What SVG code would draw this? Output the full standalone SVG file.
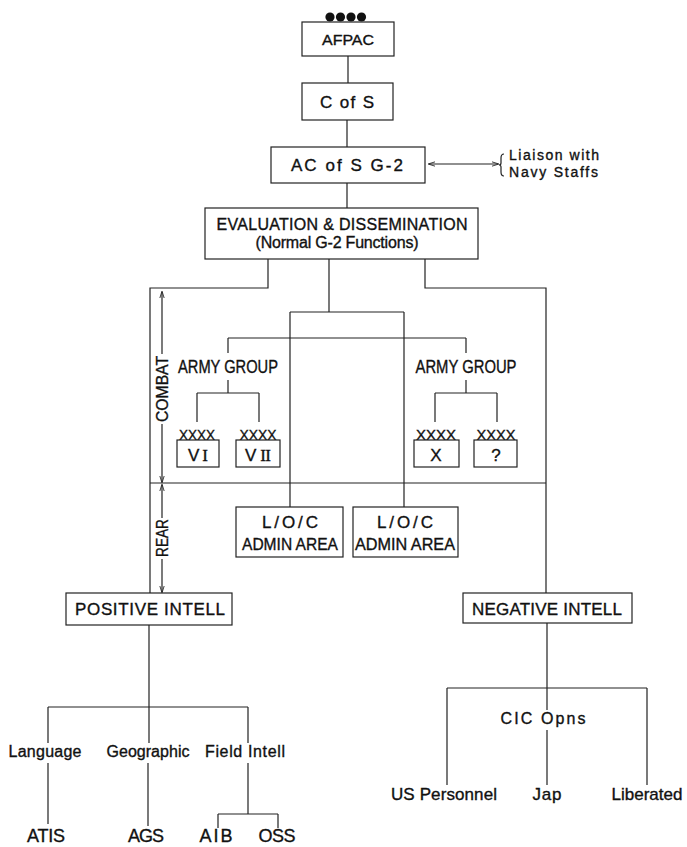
<svg xmlns="http://www.w3.org/2000/svg" width="687" height="847" viewBox="0 0 687 847">
<defs>
<style>
.box{fill:#fff;stroke:#222;stroke-width:1.2}
.ln{fill:none;stroke:#222;stroke-width:1.2}
.t{font-family:"Liberation Sans",Arial,sans-serif;fill:#111;stroke:#111;stroke-width:0.35;text-anchor:middle}
.s15{font-size:16px}
.s16{font-size:17px}
.s17{font-size:18px}
.s14{font-size:15px}
</style>
<marker id="ah" viewBox="0 0 8 8" refX="7" refY="4" markerWidth="7" markerHeight="7" orient="auto-start-reverse" markerUnits="userSpaceOnUse">
<path d="M0,1.5 L8,4 L0,6.5" fill="none" stroke="#222" stroke-width="1"/>
</marker>
</defs>
<rect width="687" height="847" fill="#fff"/>

<g id="connectors">
<path class="ln" d="M348,56V83M347,120V147M347,183V208"/>
<path class="ln" d="M268,259V288H150V593"/>
<path class="ln" d="M329,259V312M290,312H404M290,312V507M404,312V507"/>
<path class="ln" d="M228,338H466M228,338V353M228,380V393M197,393H259M197,393V422M259,393V422"/>
<path class="ln" d="M466,338V353M466,380V393M435,393H497M435,393V422M497,393V422"/>
<path class="ln" d="M425,259V288H546V593"/>
<path class="ln" d="M150,483H546"/>
<path class="ln" d="M149,625V707M48,707H248M48,707V743M149,707V743M248,707V743"/>
<path class="ln" d="M48,763V824M148,763V826M248,763V814M218,814H278M218,814V828M278,814V828"/>
<path class="ln" d="M547,623V688M447,688H647M447,688V785M547,688V710M547,730V785M647,688V785"/>
<line class="ln" x1="429" y1="164" x2="498" y2="164" marker-start="url(#ah)" marker-end="url(#ah)" stroke-width="1"/>
<path class="ln" d="M504,154Q501,154 501,158V163Q501,165 499,165Q501,165 501,167V172Q501,176 504,176" stroke-width="1"/>
</g>

<g id="combat-rear">
<line class="ln" x1="162" y1="354" x2="162" y2="292" marker-end="url(#ah)" stroke-width="1"/>
<line class="ln" x1="162" y1="424" x2="162" y2="482" marker-end="url(#ah)" stroke-width="1"/>
<line class="ln" x1="162" y1="518" x2="162" y2="485" marker-end="url(#ah)" stroke-width="1"/>
<line class="ln" x1="162" y1="559" x2="162" y2="592" marker-end="url(#ah)" stroke-width="1"/>
<text class="t s15" transform="translate(168,389) rotate(-90)" textLength="66" lengthAdjust="spacingAndGlyphs">COMBAT</text>
<text class="t s15" transform="translate(168,538) rotate(-90)" textLength="38" lengthAdjust="spacingAndGlyphs">REAR</text>
</g>

<g id="afpac">
<circle cx="330" cy="17" r="4.6" fill="#111"/><circle cx="340.5" cy="17" r="4.6" fill="#111"/><circle cx="351" cy="17" r="4.6" fill="#111"/><circle cx="361.5" cy="17" r="4.6" fill="#111"/>
<rect class="box" x="302" y="22" width="92" height="34"/>
<text class="t" x="348" y="45" style="font-size:15.5px" textLength="52" lengthAdjust="spacingAndGlyphs">AFPAC</text>
</g>
<g id="cofs">
<rect class="box" x="302" y="83" width="91" height="37"/>
<text class="t s16" x="347" y="108" textLength="54">C of S</text>
</g>
<g id="acofs">
<rect class="box" x="271" y="147" width="154" height="36"/>
<text class="t s16" x="347" y="171" textLength="112">AC of S G-2</text>
</g>
<g id="liaison">
<text class="t" x="509" y="160" style="text-anchor:start;font-size:14px" textLength="90">Liaison with</text>
<text class="t" x="509" y="177" style="text-anchor:start;font-size:14px" textLength="89">Navy Staffs</text>
</g>
<g id="evaluation">
<rect class="box" x="205" y="208" width="273" height="51"/>
<text class="t s15" x="342" y="230" textLength="251">EVALUATION &amp; DISSEMINATION</text>
<text class="t s15" x="337" y="248" textLength="163">(Normal G-2 Functions)</text>
</g>

<g id="armygroup-left">
<text class="t s17" x="228" y="373" textLength="100" lengthAdjust="spacingAndGlyphs">ARMY GROUP</text>
</g>
<g id="army-vi">
<text class="t s14" x="197" y="440" textLength="36" lengthAdjust="spacingAndGlyphs">XXXX</text>
<rect class="box" x="177" y="440" width="42" height="27"/>
<text class="t s16" x="198" y="461" textLength="20">V <tspan font-family="Liberation Serif, serif">I</tspan></text>
</g>
<g id="army-vii">
<text class="t s14" x="258" y="440" textLength="37" lengthAdjust="spacingAndGlyphs">XXXX</text>
<rect class="box" x="236" y="440" width="44" height="27"/>
<text class="t s16" x="258" y="461" textLength="26">V <tspan font-family="Liberation Serif, serif">II</tspan></text>
</g>
<g id="armygroup-right">
<text class="t s17" x="466" y="373" textLength="101" lengthAdjust="spacingAndGlyphs">ARMY GROUP</text>
</g>
<g id="army-x">
<text class="t s14" x="436" y="440" textLength="40" lengthAdjust="spacingAndGlyphs">XXXX</text>
<rect class="box" x="414" y="440" width="45" height="27"/>
<text class="t s16" x="436" y="461">X</text>
</g>
<g id="army-q">
<text class="t s14" x="496" y="440" textLength="39" lengthAdjust="spacingAndGlyphs">XXXX</text>
<rect class="box" x="474" y="440" width="43" height="27"/>
<text class="t s16" x="496" y="461">?</text>
</g>

<g id="loc1">
<rect class="box" x="236" y="507" width="107" height="50"/>
<text class="t s16" x="290" y="528" textLength="56">L/O/C</text>
<text class="t s16" x="290" y="550" textLength="96" lengthAdjust="spacingAndGlyphs">ADMIN AREA</text>
</g>
<g id="loc2">
<rect class="box" x="353" y="507" width="105" height="50"/>
<text class="t s16" x="405" y="528" textLength="56">L/O/C</text>
<text class="t s16" x="405" y="550" textLength="100" lengthAdjust="spacingAndGlyphs">ADMIN  AREA</text>
</g>

<g id="positive">
<rect class="box" x="66" y="593" width="166" height="32"/>
<text class="t s16" x="150" y="615" textLength="150">POSITIVE INTELL</text>
</g>
<g id="negative">
<rect class="box" x="463" y="593" width="169" height="30"/>
<text class="t s16" x="547" y="615" textLength="150">NEGATIVE INTELL</text>
</g>

<g id="language"><text class="t s15" x="45" y="757" textLength="73">Language</text></g>
<g id="geographic"><text class="t s15" x="148" y="757" textLength="83">Geographic</text></g>
<g id="fieldintell"><text class="t s15" x="245" y="757" textLength="80">Field Intell</text></g>
<g id="atis"><text class="t s17" x="46" y="842" textLength="38">ATIS</text></g>
<g id="ags"><text class="t s17" x="146" y="842" textLength="36">AGS</text></g>
<g id="aib"><text class="t s17" x="216" y="842" textLength="33">AIB</text></g>
<g id="oss"><text class="t s17" x="277" y="842" textLength="37">OSS</text></g>

<g id="cic"><text class="t s15" x="543" y="724" textLength="85">CIC Opns</text></g>
<g id="uspersonnel"><text class="t s16" x="444" y="800" textLength="106">US Personnel</text></g>
<g id="jap"><text class="t s16" x="547" y="800" textLength="29">Jap</text></g>
<g id="liberated"><text class="t s16" x="647" y="800" textLength="71">Liberated</text></g>
</svg>
